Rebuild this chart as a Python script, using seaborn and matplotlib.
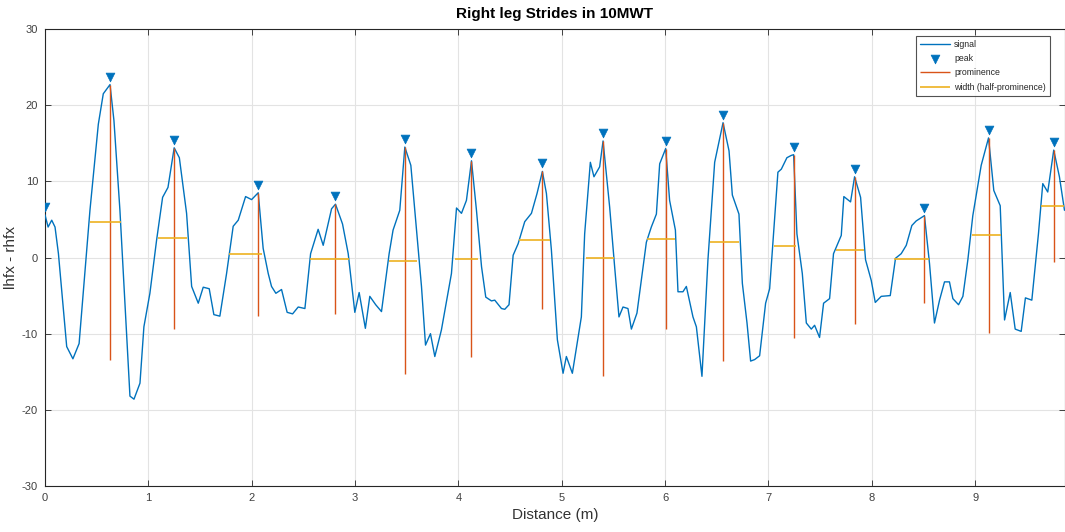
import numpy as np
import pandas as pd
import matplotlib
matplotlib.use("Agg")
import matplotlib.pyplot as plt
import matplotlib.transforms as mtransforms
from matplotlib import font_manager
import seaborn as sns

# ---- data ----
distance = [0.00, 0.03, 0.065, 0.097, 0.13, 0.21, 0.27, 0.33, 0.435, 0.516, 0.564, 0.629, 0.667, 0.725,
            0.822, 0.861, 0.919, 0.957, 1.015, 1.08, 1.138, 1.19, 1.25, 1.30, 1.37, 1.419, 1.483, 1.531,
            1.589, 1.634, 1.692, 1.757, 1.821, 1.87, 1.941, 1.999, 2.063, 2.111, 2.16, 2.192, 2.234, 2.289,
            2.343, 2.396, 2.45, 2.515, 2.57, 2.643, 2.692, 2.773, 2.811, 2.879, 2.934, 2.998, 3.04, 3.10,
            3.143, 3.20, 3.256, 3.33, 3.368, 3.433, 3.482, 3.54, 3.595, 3.643, 3.682, 3.73, 3.772, 3.836,
            3.933, 3.982, 4.03, 4.078, 4.127, 4.175, 4.224, 4.265, 4.32, 4.352, 4.417, 4.449, 4.49, 4.53,
            4.578, 4.642, 4.707, 4.761, 4.813, 4.852, 4.90, 4.958, 5.013, 5.045, 5.103, 5.19, 5.222, 5.277,
            5.312, 5.367, 5.40, 5.464, 5.512, 5.554, 5.593, 5.641, 5.674, 5.728, 5.819, 5.867, 5.916, 5.948,
            6.006, 6.044, 6.10, 6.125, 6.173, 6.206, 6.27, 6.303, 6.357, 6.415, 6.48, 6.528, 6.561, 6.619,
            6.651, 6.715, 6.748, 6.793, 6.828, 6.867, 6.915, 6.973, 7.012, 7.092, 7.125, 7.179, 7.221, 7.244,
            7.276, 7.328, 7.367, 7.415, 7.447, 7.495, 7.534, 7.592, 7.63, 7.705, 7.73, 7.795, 7.834, 7.892,
            7.94, 7.995, 8.034, 8.092, 8.179, 8.23, 8.285, 8.334, 8.388, 8.43, 8.51, 8.559, 8.607, 8.656,
            8.704, 8.752, 8.785, 8.84, 8.882, 8.93, 8.978, 9.059, 9.13, 9.181, 9.243, 9.285, 9.34, 9.388,
            9.446, 9.487, 9.549, 9.613, 9.655, 9.703, 9.761, 9.816, 9.865]
signal = [5.6, 4.0, 4.9, 4.0, 0.5, -11.7, -13.3, -11.3, 6.2, 17.5, 21.5, 22.7, 18.0, 6.2,
          -18.2, -18.6, -16.5, -9.1, -4.7, 2.3, 7.9, 9.2, 14.4, 13.1, 5.8, -3.8, -6.0, -3.9,
          -4.1, -7.5, -7.7, -2.1, 4.1, 4.9, 8.0, 7.6, 8.5, 1.2, -2.1, -3.8, -4.7, -4.2,
          -7.2, -7.4, -6.5, -6.7, 0.5, 3.7, 1.6, 6.4, 7.0, 4.4, 0.5, -7.2, -4.6, -9.3,
          -5.1, -6.2, -7.1, 0.5, 3.6, 6.2, 14.5, 12.1, 3.6, -3.8, -11.5, -10.0, -13.0, -9.5,
          -2.1, 6.5, 5.8, 7.5, 12.7, 6.2, -1.2, -5.2, -5.7, -5.6, -6.7, -6.8, -6.2, 0.3,
          1.8, 4.7, 5.8, 8.4, 11.3, 8.4, 1.0, -10.8, -15.2, -13.0, -15.2, -7.8, 3.1, 12.5,
          10.6, 11.9, 15.3, 6.6, -1.2, -7.8, -6.5, -6.7, -9.4, -7.3, 2.0, 4.0, 5.7, 12.3,
          14.3, 7.5, 3.6, -4.5, -4.5, -3.8, -7.8, -9.1, -15.6, -0.3, 12.5, 15.6, 17.7, 14.0,
          8.2, 5.7, -3.4, -8.6, -13.6, -13.4, -12.9, -6.0, -4.1, 11.2, 11.6, 13.1, 13.4, 13.5,
          3.1, -2.1, -8.6, -9.4, -8.9, -10.5, -6.0, -5.4, 0.5, 2.9, 8.0, 7.3, 10.6, 7.9,
          -0.3, -3.0, -5.9, -5.1, -5.0, -0.1, 0.5, 1.6, 4.2, 4.8, 5.5, -0.8, -8.6, -5.6,
          -3.2, -3.2, -5.4, -6.2, -5.1, -0.3, 5.5, 12.1, 15.7, 8.8, 6.8, -8.2, -4.6, -9.4,
          -9.7, -5.3, -5.6, 3.1, 9.7, 8.6, 14.1, 10.6, 6.2]

peak_x = [0.00, 0.629, 1.25, 2.063, 2.811, 3.482, 4.127, 4.813, 5.40, 6.006, 6.561, 7.244, 7.834, 8.51, 9.13, 9.761]
peak_y = [5.6, 22.7, 14.4, 8.5, 7.0, 14.5, 12.7, 11.3, 15.3, 14.3, 17.7, 13.5, 10.6, 5.5, 15.7, 14.1]

# prominence / width info (for all peaks except the edge peak at x=0)
prom_x = [0.629, 1.25, 2.063, 2.811, 3.482, 4.127, 4.813, 5.40, 6.006, 6.561, 7.244, 7.834, 8.51, 9.13, 9.761]
prom_top = [22.7, 14.4, 8.5, 7.0, 14.5, 12.7, 11.3, 15.3, 14.3, 17.7, 13.5, 10.6, 5.5, 15.7, 14.1]
prom_base = [-13.4, -9.4, -7.7, -7.4, -15.3, -13.0, -6.8, -15.5, -9.4, -13.6, -10.6, -8.7, -6.0, -9.9, -0.6]
width_left = [0.44, 1.096, 1.78, 2.563, 3.33, 3.965, 4.587, 5.232, 5.825, 6.438, 7.05, 7.65, 8.22, 8.968, 9.64]
width_right = [0.735, 1.376, 2.10, 2.94, 3.595, 4.19, 4.884, 5.503, 6.10, 6.715, 7.27, 7.923, 8.552, 9.246, 9.865]

x_ticks = [0, 1, 2, 3, 4, 5, 6, 7, 8, 9]
y_ticks = [-30, -20, -10, 0, 10, 20, 30]

# ---- style ----
sns.set_style("whitegrid")
available = {f.name for f in font_manager.fontManager.ttflist}
fams = [f for f in ["Liberation Sans Narrow", "Liberation Sans", "DejaVu Sans"] if f in available]
plt.rcParams["font.family"] = fams
plt.rcParams["axes.unicode_minus"] = False

BLUE = "#0072BD"
ORANGE = "#D95319"
YELLOW = "#EDB120"
AXC = "#262626"

fig = plt.figure(figsize=(10.65, 5.32), dpi=100)
ax = fig.add_axes([45 / 1065, 1 - 486 / 532, 1 - 45 / 1065, (486 - 29) / 532])

sig_df = pd.DataFrame({"Distance": distance, "Signal": signal})
sns.lineplot(data=sig_df, x="Distance", y="Signal", ax=ax, color=BLUE, linewidth=1.0,
             label="signal", sort=False, zorder=3)

# marker offset upward by ~8 px (as in findpeaks plot)
offset = mtransforms.ScaledTranslation(0, 8 / 100, fig.dpi_scale_trans)
pk_df = pd.DataFrame({"x": peak_x, "y": peak_y})
sns.scatterplot(data=pk_df, x="x", y="y", ax=ax, marker="v", color=BLUE, s=40,
                edgecolor=BLUE, linewidth=0.5, label="peak", zorder=6,
                transform=ax.transData + offset)

half = [(t + b) / 2 for t, b in zip(prom_top, prom_base)]
ax.vlines(prom_x, prom_base, prom_top, colors=ORANGE, linewidth=1.0, label="prominence", zorder=4)
ax.hlines(half, width_left, width_right, colors=YELLOW, linewidth=1.2,
          label="width (half-prominence)", zorder=5)

ax.set_xlim(0, 9.87)
ax.set_ylim(-30, 30)
ax.set_xticks(x_ticks)
ax.set_yticks(y_ticks)
ax.grid(True, color="#e3e3e3", linewidth=0.8)
ax.set_axisbelow(True)
for s in ax.spines.values():
    s.set_visible(True)
    s.set_color(AXC)
    s.set_linewidth(0.8)
ax.tick_params(axis="both", direction="in", length=4, width=0.6, colors=AXC,
               labelsize=8, labelcolor="#404040", top=True, right=True,
               bottom=True, left=True, pad=5)

ax.set_xlabel("Distance (m)", fontsize=11, color="#333333", labelpad=4)
ax.set_ylabel("lhfx - rhfx", fontsize=11, color="#333333", labelpad=3)
ax.set_title("Right leg Strides in 10MWT", fontsize=11, fontweight="bold", color="black", pad=8)

leg = ax.legend(loc="upper right", fontsize=6.3, frameon=True, fancybox=False, edgecolor=AXC,
                handlelength=3.4, handletextpad=0.5, borderpad=0.45, labelspacing=0.6,
                borderaxespad=0)
leg.get_frame().set_linewidth(0.8)
leg.set_bbox_to_anchor((1050 / 1065, 1 - 36 / 532), transform=fig.transFigure)

fig.savefig("out.png", dpi=100)
